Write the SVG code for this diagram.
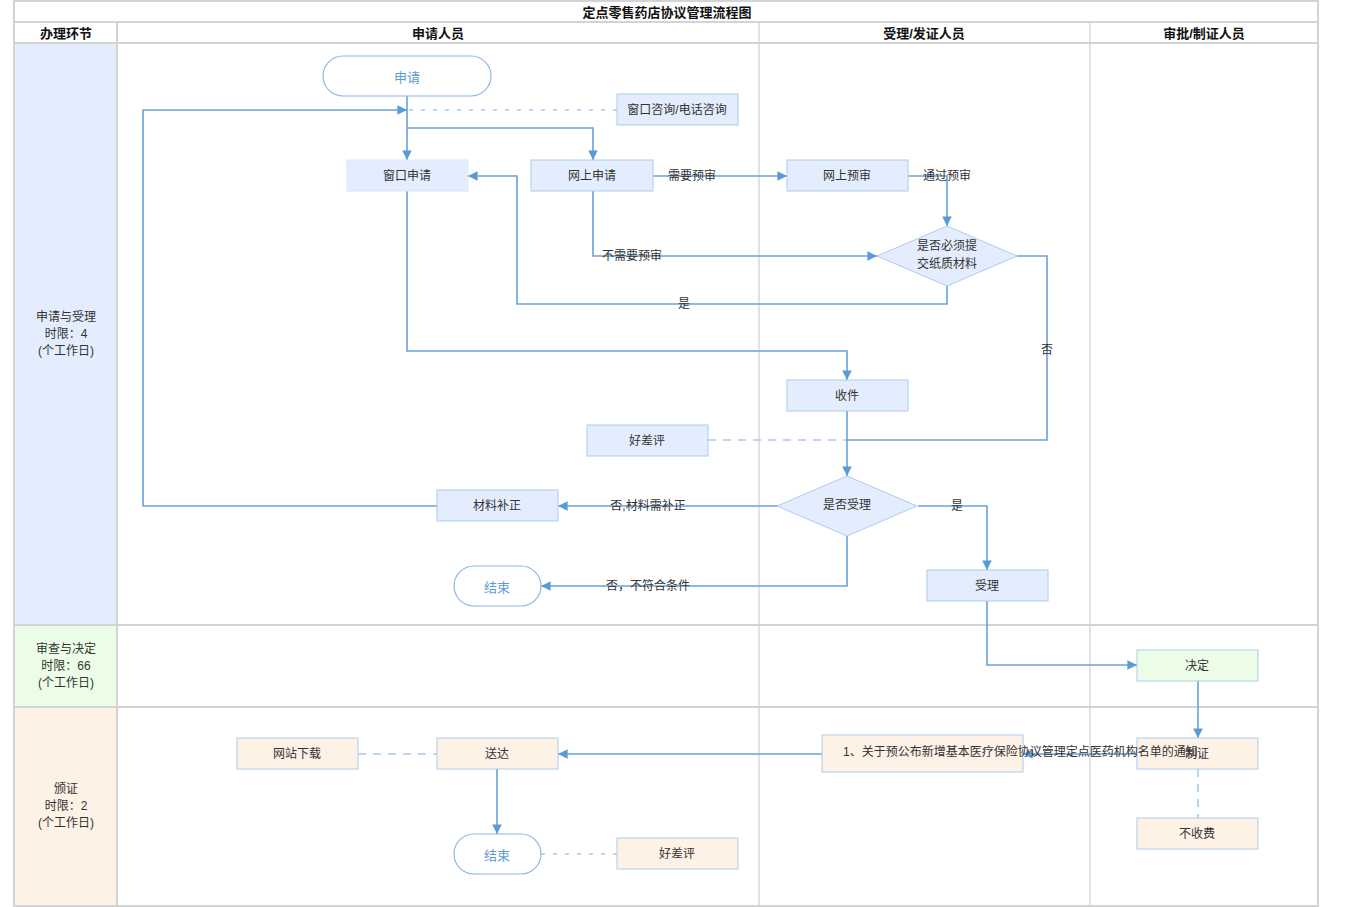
<svg xmlns="http://www.w3.org/2000/svg" width="1350" height="907" viewBox="0 0 1350 907">
<style>
text{font-family:"Liberation Sans","Noto Sans CJK SC",sans-serif;font-size:12px;fill:#333;text-anchor:middle;dominant-baseline:central}
.hd{font-size:13px;font-weight:bold;fill:#111}
.grid{stroke:#d3d3d3;stroke-width:2;fill:none}
.vl{stroke:#e2e2e2;stroke-width:2;fill:none}
.box{fill:#e3edfd;stroke:#aecbee;stroke-width:1}
.boxg{fill:#ebfde6;stroke:#aecbee;stroke-width:1}
.boxo{fill:#fef1e6;stroke:#aecbee;stroke-width:1}
.term{fill:#fff;stroke:#8db7e3;stroke-width:1.2}
.tt{fill:#5b9bd5;font-size:13px}
.c{stroke:#6aa2d8;stroke-width:1.6;fill:none}
.d{stroke:#a9c9ec;stroke-width:1.6;fill:none;stroke-dasharray:8 7}
.d2{stroke:#a9c9ec;stroke-width:1.6;fill:none;stroke-dasharray:4 8}
.lbl{font-size:12px;fill:#333}
</style>
<defs>
<marker id="a" viewBox="0 0 10 10" refX="10" refY="5" markerWidth="6" markerHeight="6" orient="auto" markerUnits="strokeWidth">
<path d="M0,0 L10,5 L0,10 z" fill="#5b9bd5"/>
</marker>
</defs>
<g id="table">
<rect x="15" y="44" width="101" height="581" fill="#e3edfd"/>
<rect x="15" y="626" width="101" height="81" fill="#ebfde6"/>
<rect x="15" y="708" width="101" height="198" fill="#fef1e6"/>
<line class="vl" x1="759" y1="22" x2="759" y2="906"/>
<line class="vl" x1="1090" y1="22" x2="1090" y2="906"/>
<rect class="grid" x="14" y="1" width="1304" height="905"/>
<line class="grid" x1="14" y1="22" x2="1318" y2="22"/>
<line class="grid" x1="14" y1="43" x2="1318" y2="43"/>
<line class="grid" x1="14" y1="625" x2="1318" y2="625"/>
<line class="grid" x1="14" y1="707" x2="1318" y2="707"/>
<line class="grid" x1="117" y1="22" x2="117" y2="906"/>
<text class="hd" x="667" y="12">定点零售药店协议管理流程图</text>
<text class="hd" x="66" y="33">办理环节</text>
<text class="hd" x="438" y="33">申请人员</text>
<text class="hd" x="924" y="33">受理/发证人员</text>
<text class="hd" x="1204" y="33">审批/制证人员</text>
<text x="66" y="317">申请与受理</text>
<text x="66" y="334">时限：4</text>
<text x="66" y="351">(个工作日)</text>
<text x="66" y="649">审查与决定</text>
<text x="66" y="666">时限：66</text>
<text x="66" y="683">(个工作日)</text>
<text x="66" y="789">颁证</text>
<text x="66" y="806">时限：2</text>
<text x="66" y="823">(个工作日)</text>
</g>
<g id="connectors">
<path class="c" d="M407,96 V160" marker-end="url(#a)"/>
<path class="c" d="M407,128 H593 V160" marker-end="url(#a)"/>
<path class="d2" d="M617,110 H409"/>
<path class="c" d="M437,506 H143 V110 H407" marker-end="url(#a)"/>
<path class="c" d="M653,176 H787" marker-end="url(#a)"/>
<path class="c" d="M908,176 H947 V226" marker-end="url(#a)"/>
<path class="c" d="M593,191 V256 H877" marker-end="url(#a)"/>
<path class="c" d="M947,286 V304 H517 V176 H468" marker-end="url(#a)"/>
<path class="c" d="M407,191 V351 H847 V380" marker-end="url(#a)"/>
<path class="c" d="M1017,256 H1047 V440 H847"/>
<path class="d" d="M708,440 H847"/>
<path class="c" d="M847,411 V476" marker-end="url(#a)"/>
<path class="c" d="M778,506 H558" marker-end="url(#a)"/>
<path class="c" d="M847,536 V586 H541" marker-end="url(#a)"/>
<path class="c" d="M918,506 H987 V570" marker-end="url(#a)"/>
<path class="c" d="M987,601 V665 H1137" marker-end="url(#a)"/>
<path class="c" d="M1198,681 V738" marker-end="url(#a)"/>
<path class="c" d="M1137,754 H1023" marker-end="url(#a)"/>
<path class="c" d="M822,754 H558" marker-end="url(#a)"/>
<path class="d" d="M358,754 H437"/>
<path class="c" d="M497,769 V834" marker-end="url(#a)"/>
<path class="d2" d="M541,854 H617"/>
<path class="d" d="M1198,769 V818"/>
<text class="lbl" x="692" y="176">需要预审</text>
<text class="lbl" x="947" y="176">通过预审</text>
<text class="lbl" x="632" y="256">不需要预审</text>
<text class="lbl" x="684" y="304">是</text>
<text class="lbl" x="1047" y="350">否</text>
<text class="lbl" x="648" y="506">否,材料需补正</text>
<text class="lbl" x="648" y="586">否，不符合条件</text>
<text class="lbl" x="957" y="506">是</text>
</g>
<g id="n_apply"><rect class="term" x="323" y="56" width="168" height="40" rx="20"/><text class="tt" x="407" y="77">申请</text></g>
<g id="n_consult"><rect class="box" x="617" y="94" width="121" height="31"/><text x="677" y="110">窗口咨询/电话咨询</text></g>
<g id="n_window"><rect class="box" x="347" y="160" width="121" height="31" style="stroke:#dde8f6"/><text x="407" y="176">窗口申请</text></g>
<g id="n_online"><rect class="box" x="531" y="160" width="122" height="31"/><text x="592" y="176">网上申请</text></g>
<g id="n_precheck"><rect class="box" x="787" y="160" width="121" height="31"/><text x="847" y="176">网上预审</text></g>
<g id="n_paper"><polygon class="box" points="947,226 1017,256 947,286 877,256"/><text x="947" y="246">是否必须提</text><text x="947" y="264">交纸质材料</text></g>
<g id="n_receive"><rect class="box" x="787" y="380" width="121" height="31"/><text x="847" y="396">收件</text></g>
<g id="n_eval1"><rect class="box" x="587" y="425" width="121" height="31"/><text x="647" y="441">好差评</text></g>
<g id="n_accept_q"><polygon class="box" points="847,476 917,506 847,536 777,506"/><text x="847" y="505">是否受理</text></g>
<g id="n_supplement"><rect class="box" x="437" y="490" width="121" height="31"/><text x="497" y="506">材料补正</text></g>
<g id="n_end1"><rect class="term" x="454" y="566" width="87" height="40" rx="20"/><text class="tt" x="497" y="587">结束</text></g>
<g id="n_accept"><rect class="box" x="927" y="570" width="121" height="31"/><text x="987" y="586">受理</text></g>
<g id="n_decide"><rect class="boxg" x="1137" y="650" width="121" height="31"/><text x="1197" y="666">决定</text></g>
<g id="n_make"><rect class="boxo" x="1137" y="738" width="121" height="31"/><text x="1197" y="754">制证</text></g>
<g id="n_nofee"><rect class="boxo" x="1137" y="818" width="121" height="31"/><text x="1197" y="834">不收费</text></g>
<g id="n_notice"><rect class="boxo" x="822" y="735" width="201" height="37"/><text x="843" y="752" style="text-anchor:start">1、关于预公布新增基本医疗保险协议管理定点医药机构名单的通知</text></g>
<g id="n_deliver"><rect class="boxo" x="437" y="738" width="121" height="31"/><text x="497" y="754">送达</text></g>
<g id="n_download"><rect class="boxo" x="237" y="738" width="121" height="31"/><text x="297" y="754">网站下载</text></g>
<g id="n_end2"><rect class="term" x="454" y="834" width="87" height="40" rx="20"/><text class="tt" x="497" y="855">结束</text></g>
<g id="n_eval2"><rect class="boxo" x="617" y="838" width="121" height="31"/><text x="677" y="854">好差评</text></g>
</svg>
